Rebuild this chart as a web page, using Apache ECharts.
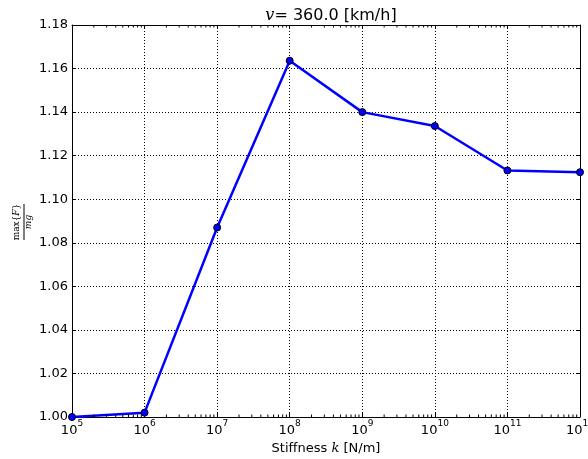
<!DOCTYPE html>
<html>
<head>
<meta charset="utf-8">
<script src="https://cdn.jsdelivr.net/npm/echarts@6/dist/echarts.min.js"></script>
<style>
  html, body { margin: 0; padding: 0; background: #fff; }
  #chart { width: 588px; height: 459px; }
</style>
</head>
<body>
<div id="chart"></div>
<script>
// stiffness values (N/m) and normalised max force
const stiffness = [1e5, 1e6, 1e7, 1e8, 1e9, 1e10, 1e11, 1e12];
const maxForce = [1.000, 1.002, 1.087, 1.1636, 1.140, 1.1336, 1.1132, 1.1124];
const yTicks = [1.00, 1.02, 1.04, 1.06, 1.08, 1.10, 1.12, 1.14, 1.16, 1.18];
const decades = [5, 6, 7, 8, 9, 10, 11, 12];

const X_MIN = 1e5, X_MAX = 1e12;
const Y_MIN = yTicks[0], Y_MAX = yTicks[yTicks.length - 1];

// minor ticks on the log axis (2..9 x 10^n)
const minorTicks = [];
decades.slice(0, -1).forEach(d => {
  for (let m = 2; m <= 9; m++) minorTicks.push(m * Math.pow(10, d));
});

const FONT = 'DejaVu Sans';
const tickText = { color: '#000', fontFamily: FONT, fontSize: 13 };
const dotted = { show: true, lineStyle: { color: '#000', width: 1, type: [1, 2] } };

const chart = echarts.init(document.getElementById('chart'), null, { renderer: 'canvas' });

chart.setOption({
  animation: false,
  backgroundColor: '#fff',
  title: {
    text: '{i|v}{n|= 360.0 [km/h]}',
    left: 326,
    textAlign: 'center',
    top: 3,
    textStyle: {
      fontWeight: 'normal',
      rich: {
        i: { fontFamily: 'DejaVu Serif', fontStyle: 'italic', fontWeight: 'normal', fontSize: 16, color: '#000' },
        n: { fontFamily: FONT, fontWeight: 'normal', fontSize: 16, color: '#000' }
      }
    }
  },
  grid: { left: 72, right: 8, top: 25, bottom: 42, containLabel: false, outerBoundsMode: 'none' },
  xAxis: [
    {
      type: 'log',
      logBase: 10,
      min: X_MIN,
      max: X_MAX,
      splitNumber: 7,
      name: '{n|Stiffness }{i|k}{n| [N/m]}',
      nameLocation: 'middle',
      nameGap: 24,
      nameTextStyle: {
        rich: {
          n: { fontFamily: FONT, fontSize: 13, color: '#000' },
          i: { fontFamily: 'DejaVu Serif', fontStyle: 'italic', fontSize: 13, color: '#000' }
        }
      },
      axisLine: { show: true, onZero: false, lineStyle: { color: '#000', width: 1 } },
      axisTick: { show: true, inside: true, length: 4, lineStyle: { color: '#000' } },
      axisLabel: {
        margin: 2,
        formatter: v => '{b|10}{s|' + Math.round(Math.log10(v)) + '}',
        rich: {
          b: { ...tickText, padding: [5, 0, 0, 0] },
          s: { ...tickText, fontSize: 9, verticalAlign: 'top' }
        },
        showMinLabel: true,
        showMaxLabel: true
      },
      splitLine: dotted
    },
    {
      type: 'log',
      logBase: 10,
      min: X_MIN,
      max: X_MAX,
      splitNumber: 7,
      position: 'top',
      axisLine: { show: true, onZero: false, lineStyle: { color: '#000', width: 1 } },
      axisTick: { show: true, inside: true, length: 4, lineStyle: { color: '#000' } },
      axisLabel: { show: false },
      splitLine: { show: false }
    }
  ],
  yAxis: [
    {
      type: 'value',
      min: Y_MIN,
      max: Y_MAX,
      interval: 0.02,
      axisLine: { show: true, onZero: false, lineStyle: { color: '#000', width: 1 } },
      axisTick: { show: true, inside: true, length: 4, lineStyle: { color: '#000' } },
      axisLabel: { ...tickText, margin: 4, formatter: v => v.toFixed(2) },
      splitLine: dotted
    },
    {
      type: 'value',
      min: Y_MIN,
      max: Y_MAX,
      interval: 0.02,
      position: 'right',
      axisLine: { show: true, onZero: false, lineStyle: { color: '#000', width: 1 } },
      axisTick: { show: true, inside: true, length: 4, lineStyle: { color: '#000' } },
      axisLabel: { show: false },
      splitLine: { show: false }
    }
  ],
  series: [
    {
      type: 'line',
      data: stiffness.map((k, i) => [k, maxForce[i]]),
      lineStyle: { color: '#0000ff', width: 2.5 },
      symbol: 'circle',
      symbolSize: 7,
      itemStyle: { color: '#0000ff', borderColor: '#000', borderWidth: 1 },
      clip: true,
      z: 5
    },
    {
      // log minor ticks, top and bottom, pointing inwards
      type: 'custom',
      silent: true,
      z: 6,
      data: minorTicks.map(v => [v, Y_MIN]),
      renderItem: (params, api) => {
        const v = api.value(0);
        const b = api.coord([v, Y_MIN]);
        const t = api.coord([v, Y_MAX]);
        const style = { stroke: '#000', lineWidth: 1 };
        return {
          type: 'group',
          children: [
            { type: 'line', shape: { x1: b[0], y1: b[1], x2: b[0], y2: b[1] - 2.5 }, style },
            { type: 'line', shape: { x1: t[0], y1: t[1], x2: t[0], y2: t[1] + 2.5 }, style }
          ]
        };
      }
    }
  ],
  graphic: [
    {
      // y axis label: max{F} / mg, rotated
      type: 'group',
      x: 24,
      y: 222,
      rotation: Math.PI / 2,
      children: [
        {
          type: 'text',
          x: 0,
          y: -7,
          style: {
            text: 'max{{i|F}}',
            fontFamily: 'DejaVu Serif',
            fontSize: 9,
            fill: '#000',
            align: 'center',
            verticalAlign: 'middle',
            rich: { i: { fontFamily: 'DejaVu Serif', fontStyle: 'italic', fontSize: 9, fill: '#000' } }
          }
        },
        { type: 'line', shape: { x1: -18, y1: 0, x2: 18, y2: 0 }, style: { stroke: '#000', lineWidth: 1 } },
        {
          type: 'text',
          x: 0,
          y: 5,
          style: {
            text: 'mg',
            fontFamily: 'DejaVu Serif',
            fontStyle: 'italic',
            fontSize: 9,
            fill: '#000',
            align: 'center',
            verticalAlign: 'middle'
          }
        }
      ]
    }
  ]
});
</script>
</body>
</html>
